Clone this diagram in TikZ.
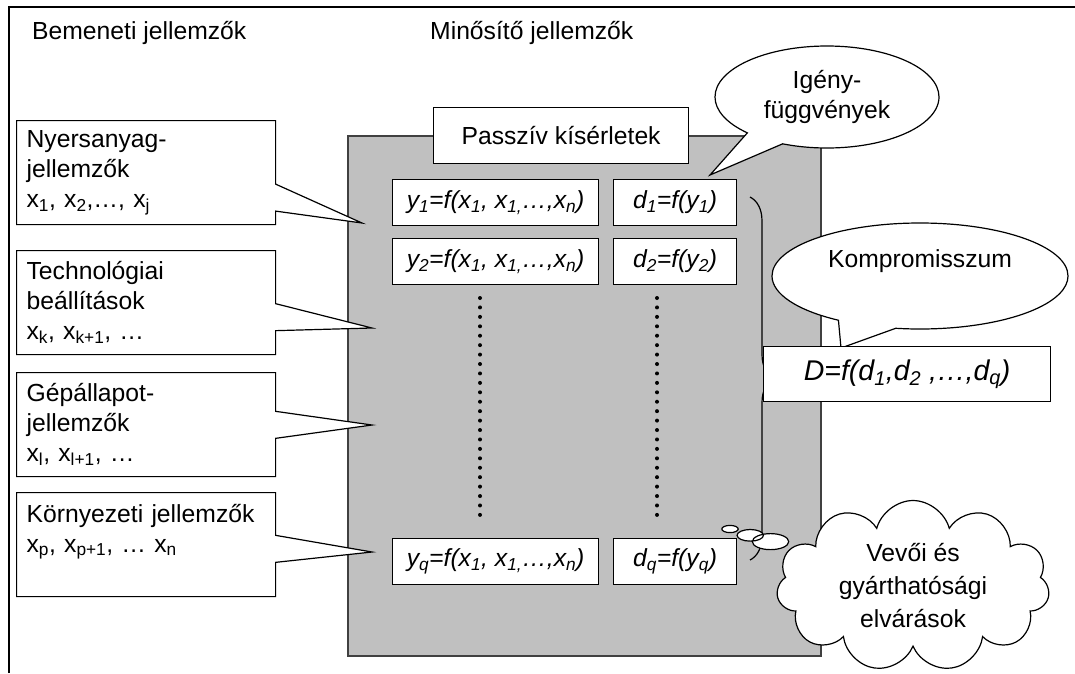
\documentclass[tikz,border=0pt]{standalone}
\usepackage{fontspec}
\setmainfont{Liberation Sans}
\usetikzlibrary{shapes.callouts,shapes.symbols,decorations.pathreplacing}

\definecolor{mezoszurke}{RGB}{192,192,192}

\tikzset{
	cim/.style={anchor=base west, inner sep=0pt},
	mezo/.style={draw=black!75, line width=1.5pt, fill=mezoszurke, anchor=north west,
		minimum width=473pt, minimum height=520pt, inner sep=0pt},
	doboz/.style={draw, fill=white, line width=1.2pt, anchor=north west},
	keplet/.style={doboz, minimum height=46pt, font=\fontsize{24.7}{30}\selectfont\itshape},
	jellemzo/.style={rectangle callout, draw, fill=white, line width=1.2pt, anchor=north west,
		align=left, text width=239pt, inner xsep=10pt, inner ysep=8pt,
		minimum width=259pt, minimum height=104pt, callout pointer width=27pt},
	buborek/.style={ellipse callout, draw, fill=white, line width=1.2pt, align=center},
	pont/.style={fill=black}
}

\begin{document}
\begin{tikzpicture}[x=1pt, y=-1pt, font=\fontsize{24.7}{30}\selectfont]
	\useasboundingbox (0,0) rectangle (1075,673);
	% keret
	\draw[line width=2.5pt] (9,673) -- (9,7) -- (1075,7);
	\node[cim] (bemeneti) at (32,39) {Bemeneti jellemzők};
	\node[cim] (minosito) at (430,39) {Minősítő jellemzők};

	% szurke mezo
	\node[mezo] (mezo) at (347,135) {};

	% bemeneti jellemzok
	\coordinate (csucs1) at (362,223);
	\coordinate (csucs2) at (372,328);
	\coordinate (csucs3) at (372,425);
	\coordinate (csucs4) at (372,552);
	\node[jellemzo, callout absolute pointer={(csucs1)}] (nyersanyag) at (16,120)
		{Nyersanyag-\\jellemzők\\x\textsubscript{1}, x\textsubscript{2},…, x\textsubscript{j}};
	\node[jellemzo, callout absolute pointer={(csucs2)}] (technologia) at (16,250)
		{Technológiai\\beállítások\\x\textsubscript{k}, x\textsubscript{k+1}, …};
	\node[jellemzo, callout absolute pointer={(csucs3)}] (gepallapot) at (16,372)
		{Gépállapot-\\jellemzők\\x\textsubscript{l}, x\textsubscript{l+1}, …};
	\node[jellemzo, callout absolute pointer={(csucs4)}] (kornyezet) at (16,492)
		{Környezeti jellemzők\\x\textsubscript{p}, x\textsubscript{p+1}, … x\textsubscript{n}\rule[-33pt]{0pt}{33pt}};

	\node[doboz, minimum width=255pt, minimum height=56pt] (passziv) at (433,107) {Passzív kísérletek};

	% minosito jellemzok
	\node[keplet, minimum width=206pt] (y1) at (392,179) {y\textsubscript{1}=f(x\textsubscript{1}, x\textsubscript{1,}…,x\textsubscript{n})};
	\node[keplet, minimum width=123pt] (d1) at (613,179) {d\textsubscript{1}=f(y\textsubscript{1})};
	\node[keplet, minimum width=206pt] (y2) at (392,238) {y\textsubscript{2}=f(x\textsubscript{1}, x\textsubscript{1,}…,x\textsubscript{n})};
	\node[keplet, minimum width=123pt] (d2) at (613,238) {d\textsubscript{2}=f(y\textsubscript{2})};
	\node[keplet, minimum width=206pt] (yq) at (392,538) {y\textsubscript{q}=f(x\textsubscript{1}, x\textsubscript{1,}…,x\textsubscript{n})};
	\node[keplet, minimum width=123pt] (dq) at (613,538) {d\textsubscript{q}=f(y\textsubscript{q})};
	\foreach \i in {0,...,23} {
		\fill[pont] (480,298+9.43*\i) circle (2pt);
		\fill[pont] (657,298+9.43*\i) circle (2pt);
	}

	% kapocs
	\coordinate (kapocsfent) at (750,197);
	\coordinate (kapocslent) at (750,560);
	\draw[line width=1.2pt, decorate, decoration={brace, amplitude=24pt}] (kapocsfent) -- (kapocslent);

	\coordinate (igenycsucs) at (710,175);
	\node[buborek, minimum width=224pt, minimum height=102pt, callout absolute pointer={(igenycsucs)},
		callout pointer arc=22] (igeny) at (827,97) {Igény-\\függvények};
	\coordinate (kompcsucs) at (841,348);
	\node[buborek, minimum width=296pt, minimum height=106pt, callout absolute pointer={(kompcsucs)},
		callout pointer arc=24, text depth=34pt] (kompromisszum) at (920,276) {Kompromisszum};
	\node[doboz, minimum width=287pt, minimum height=55pt, font=\fontsize{28.5}{34}\selectfont\itshape] (D) at (763,346)
		{D=f(d\textsubscript{1},d\textsubscript{2} ,…,d\textsubscript{q})};

	\coordinate (felhocsucs) at (730,529);
	\node[cloud callout, draw, fill=white, line width=1.2pt, align=center, cloud puffs=11, cloud ignores aspect,
		minimum width=273pt, minimum height=170pt, callout absolute pointer={(felhocsucs)},
		callout pointer start size=.17 of callout, callout pointer end size=.06 of callout,
		callout pointer segments=3, font=\fontsize{24.7}{33}\selectfont] (elvarasok) at (913,586)
		{Vevői és\\gyárthatósági\\elvárások};
\end{tikzpicture}
\end{document}
